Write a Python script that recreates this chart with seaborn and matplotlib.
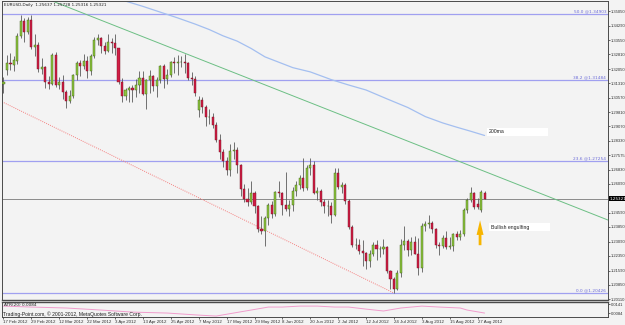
import numpy as np
import pandas as pd
import matplotlib
matplotlib.use('Agg')
import matplotlib.pyplot as plt
from matplotlib.patches import Rectangle
import seaborn as sns

#%%
'''DATA'''
# daily EURUSD candles, 17 Feb 2012 - 29 Aug 2012 (one per trading day)
opens = [1.3125, 1.3200, 1.3236, 1.3225, 1.3245, 1.3375, 1.3455, 1.3395, 1.3460, 1.3320,
         1.3330, 1.3205, 1.3215, 1.3140, 1.3125, 1.3280, 1.3120, 1.3140, 1.3085, 1.3040,
         1.3065, 1.3175, 1.3235, 1.3220, 1.3245, 1.3195, 1.3270, 1.3355, 1.3365, 1.3325,
         1.3300, 1.3345, 1.3340, 1.3315, 1.3140, 1.3065, 1.3095, 1.3105, 1.3095, 1.3120,
         1.3160, 1.3075, 1.3150, 1.3170, 1.3115, 1.3150, 1.3220, 1.3155, 1.3175, 1.3240,
         1.3235, 1.3240, 1.3240, 1.3235, 1.3160, 1.3155, 1.2990, 1.3045, 1.3010, 1.2955,
         1.2955, 1.2915, 1.2835, 1.2775, 1.2725, 1.2680, 1.2780, 1.2785, 1.2705, 1.2580,
         1.2530, 1.2515, 1.2560, 1.2495, 1.2375, 1.2365, 1.2430, 1.2500, 1.2450, 1.2565,
         1.2560, 1.2500, 1.2480, 1.2500, 1.2570, 1.2605, 1.2640, 1.2585, 1.2690, 1.2705,
         1.2560, 1.2570, 1.2515, 1.2495, 1.2495, 1.2445, 1.2665, 1.2590, 1.2605, 1.2520,
         1.2385, 1.2290, 1.2290, 1.2260, 1.2250, 1.2210, 1.2245, 1.2290, 1.2270, 1.2270,
         1.2280, 1.2155, 1.2115, 1.2065, 1.2145, 1.2290, 1.2310, 1.2265, 1.2305, 1.2245,
         1.2170, 1.2390, 1.2400, 1.2405, 1.2375, 1.2290, 1.2285, 1.2330, 1.2280, 1.2285,
         1.2350, 1.2335, 1.2350, 1.2475, 1.2525, 1.2560, 1.2505, 1.2475, 1.25637]
highs = [1.3165, 1.3278, 1.3290, 1.3275, 1.3390, 1.3486, 1.3470, 1.3475, 1.3486, 1.3385,
         1.3345, 1.3260, 1.3220, 1.3170, 1.3290, 1.3295, 1.3165, 1.3175, 1.3095, 1.3095,
         1.3180, 1.3245, 1.3250, 1.3285, 1.3270, 1.3285, 1.3370, 1.3385, 1.3370, 1.3345,
         1.3385, 1.3365, 1.3385, 1.3315, 1.3160, 1.3105, 1.3115, 1.3120, 1.3155, 1.3195,
         1.3195, 1.3155, 1.3200, 1.3175, 1.3165, 1.3225, 1.3230, 1.3205, 1.3245, 1.3265,
         1.3280, 1.3275, 1.3285, 1.3240, 1.3190, 1.3170, 1.3065, 1.3060, 1.3020, 1.2995,
         1.2975, 1.2930, 1.2870, 1.2790, 1.2750, 1.2815, 1.2825, 1.2800, 1.2710, 1.2610,
         1.2585, 1.2625, 1.2570, 1.2500, 1.2440, 1.2440, 1.2510, 1.2520, 1.2570, 1.2625,
         1.2565, 1.2670, 1.2525, 1.2590, 1.2625, 1.2655, 1.2745, 1.2705, 1.2745, 1.2725,
         1.2590, 1.2580, 1.2530, 1.2525, 1.2515, 1.2690, 1.2690, 1.2620, 1.2615, 1.2530,
         1.2395, 1.2330, 1.2325, 1.2315, 1.2255, 1.2265, 1.2305, 1.2315, 1.2285, 1.2325,
         1.2285, 1.2160, 1.2125, 1.2160, 1.2325, 1.2390, 1.2325, 1.2335, 1.2340, 1.2330,
         1.2405, 1.2415, 1.2445, 1.2415, 1.2380, 1.2305, 1.2345, 1.2365, 1.2335, 1.2355,
         1.2365, 1.2370, 1.2485, 1.2535, 1.2590, 1.2565, 1.2535, 1.2575, 1.25728]
lows = [1.3080, 1.3175, 1.3200, 1.3195, 1.3230, 1.3365, 1.3345, 1.3385, 1.3310, 1.3275,
        1.3190, 1.3180, 1.3105, 1.3100, 1.3120, 1.3110, 1.3100, 1.3050, 1.3005, 1.3030,
        1.3055, 1.3150, 1.3170, 1.3205, 1.3160, 1.3175, 1.3260, 1.3330, 1.3290, 1.3285,
        1.3295, 1.3290, 1.3280, 1.3125, 1.3035, 1.3045, 1.3035, 1.3035, 1.3060, 1.3080,
        1.3070, 1.3000, 1.3080, 1.3090, 1.3060, 1.3130, 1.3105, 1.3125, 1.3165, 1.3185,
        1.3175, 1.3215, 1.3185, 1.3150, 1.3120, 1.3065, 1.2955, 1.2975, 1.2910, 1.2920,
        1.2900, 1.2825, 1.2740, 1.2695, 1.2655, 1.2650, 1.2740, 1.2665, 1.2545, 1.2515,
        1.2495, 1.2505, 1.2460, 1.2360, 1.2350, 1.2288, 1.2395, 1.2430, 1.2440, 1.2540,
        1.2445, 1.2470, 1.2440, 1.2470, 1.2545, 1.2580, 1.2570, 1.2575, 1.2655, 1.2555,
        1.2525, 1.2495, 1.2455, 1.2440, 1.2405, 1.2440, 1.2580, 1.2560, 1.2505, 1.2375,
        1.2280, 1.2270, 1.2245, 1.2185, 1.2165, 1.2175, 1.2235, 1.2215, 1.2230, 1.2245,
        1.2145, 1.2065, 1.2042, 1.2060, 1.2125, 1.2265, 1.2235, 1.2240, 1.2245, 1.2135,
        1.2150, 1.2365, 1.2380, 1.2355, 1.2275, 1.2240, 1.2275, 1.2270, 1.2270, 1.2260,
        1.2315, 1.2315, 1.2340, 1.2455, 1.2515, 1.2480, 1.2480, 1.2465, 1.25316]
closes = [1.3140, 1.3236, 1.3232, 1.3250, 1.3375, 1.3455, 1.3395, 1.3460, 1.3320, 1.3330,
          1.3205, 1.3215, 1.3140, 1.3125, 1.3280, 1.3120, 1.3140, 1.3085, 1.3040, 1.3065,
          1.3175, 1.3235, 1.3220, 1.3245, 1.3195, 1.3270, 1.3355, 1.3365, 1.3325, 1.3300,
          1.3345, 1.3340, 1.3315, 1.3140, 1.3065, 1.3095, 1.3105, 1.3095, 1.3120, 1.3160,
          1.3075, 1.3150, 1.3170, 1.3115, 1.3150, 1.3220, 1.3155, 1.3175, 1.3240, 1.3235,
          1.3240, 1.3240, 1.3235, 1.3160, 1.3155, 1.3080, 1.3045, 1.3010, 1.2955, 1.2955,
          1.2915, 1.2835, 1.2775, 1.2725, 1.2680, 1.2780, 1.2785, 1.2705, 1.2580, 1.2530,
          1.2515, 1.2560, 1.2495, 1.2375, 1.2365, 1.2430, 1.2500, 1.2450, 1.2565, 1.2560,
          1.2500, 1.2480, 1.2500, 1.2570, 1.2605, 1.2640, 1.2585, 1.2690, 1.2705, 1.2560,
          1.2570, 1.2515, 1.2495, 1.2495, 1.2445, 1.2665, 1.2590, 1.2605, 1.2520, 1.2385,
          1.2290, 1.2290, 1.2260, 1.2250, 1.2210, 1.2245, 1.2290, 1.2270, 1.2270, 1.2280,
          1.2155, 1.2115, 1.2065, 1.2145, 1.2290, 1.2310, 1.2265, 1.2305, 1.2245, 1.2170,
          1.2390, 1.2400, 1.2405, 1.2375, 1.2290, 1.2285, 1.2330, 1.2280, 1.2285, 1.2350,
          1.2335, 1.2350, 1.2475, 1.2525, 1.2560, 1.2490, 1.2488, 1.2565, 1.25321]

# 200 day moving average, read at some bars
ma_bars = [30, 34, 40, 45, 50, 55, 59, 63, 67, 71, 75, 79, 83, 88, 94, 99, 104, 110, 116, 121, 126, 130, 134, 138]
ma_vals = [1.3590, 1.3563, 1.3530, 1.3500, 1.3470, 1.3438, 1.3410, 1.3377, 1.3350, 1.3312, 1.3268, 1.3240,
           1.3212, 1.3190, 1.3150, 1.3122, 1.3096, 1.3050, 1.3005, 1.2958, 1.2925, 1.2903, 1.2882, 1.2860]

# ATR(20), read at some bars
atr_bars = [0, 8, 18, 28, 37, 47, 56, 61, 66, 71, 76, 80, 85, 90, 95, 99, 104, 109, 114, 120, 125, 131, 133, 138]
atr_vals = [0.0128, 0.0122, 0.0116, 0.0103, 0.0090, 0.0084, 0.0071, 0.0065, 0.0084, 0.0103, 0.0122, 0.0122,
            0.0128, 0.0128, 0.0122, 0.0122, 0.0109, 0.0097, 0.0116, 0.0128, 0.0122, 0.0116, 0.0103, 0.0084]

# fibonacci retracement levels
fib_levels = [1.34903, 1.31484, 1.27254, 1.20426]
fib_labels = ['50.0 @1.34903', '38.2 @1.31484', '23.6 @1.27254', '0.0 @1.20426']

# trend lines (bar, price)
green_line_x = [13, 173.4]
green_line_y = [1.3565, 1.2421]
red_line_x = [-1, 112]
red_line_y = [1.3040, 1.2042]

last_price = 1.25321

price_ticks = [1.35050, 1.34290, 1.33550, 1.32810, 1.32050, 1.31310, 1.30570, 1.29810, 1.29070,
               1.28330, 1.27575, 1.26830, 1.26090, 1.24590, 1.23850, 1.23090, 1.22350,
               1.21590, 1.20850, 1.20110]
date_tick_bars = [0, 8, 16, 24, 32, 40, 48, 56, 64, 72, 80, 88, 96, 104, 112, 120, 128, 136]
date_tick_labels = ['17 Feb 2012', '29 Feb 2012', '12 Mar 2012', '22 Mar 2012', '3 Apr 2012',
                    '13 Apr 2012', '25 Apr 2012', '7 May 2012', '17 May 2012', '29 May 2012',
                    '8 Jun 2012', '20 Jun 2012', '2 Jul 2012', '12 Jul 2012', '24 Jul 2012',
                    '3 Aug 2012', '15 Aug 2012', '27 Aug 2012']
atr_ticks = [0.0141, 0.0084]

#%%
'''PLOT'''
sns.set_style('white')
plt.rcParams['font.family'] = ['Liberation Sans Narrow', 'Liberation Sans', 'DejaVu Sans']

bg = '#f3f3f3'
frame = '#4a4a4a'
txt = '#202020'
narrow = ['Liberation Sans Narrow', 'DejaVu Sans']
normal = ['Liberation Sans', 'DejaVu Sans']

df = pd.DataFrame({'open': opens, 'high': highs, 'low': lows, 'close': closes})
df['bar'] = np.arange(len(df))
up = df[df.close >= df.open]
down = df[df.close < df.open]

fig = plt.figure(figsize=(6.25, 3.25), dpi=100, facecolor=bg)
ax = fig.add_axes([2/625, 25/325, 606/625, 299/325], facecolor=bg)
ax2 = fig.add_axes([2/625, 8/325, 606/625, 15/325], facecolor=bg, sharex=ax)

#Fib levels + last price
for lev, lab in zip(fib_levels, fib_labels):
    ax.axhline(lev, color='#a0a0f0', lw=0.9, zorder=1)
    ax.text(0.997, lev + 0.0004, lab, transform=ax.get_yaxis_transform(),
            ha='right', va='bottom', fontsize=3.1, color='#6a6ad8', family=narrow)
ax.axhline(last_price, color='#8a8a8a', lw=0.7, zorder=1)

#Trend lines
ax.plot(green_line_x, green_line_y, color='#6cbf84', lw=0.7, zorder=2)
ax.plot(red_line_x, red_line_y, color='#f38080', lw=0.7, ls=(0, (1, 1.2)), zorder=2)

#200 MA
sns.lineplot(x=ma_bars, y=ma_vals, ax=ax, color='#a4bff0', lw=0.9, zorder=2)

#Candles
ax.vlines(df.bar, df.low, df.high, color='#5a5a5a', lw=0.6, zorder=3)
ax.bar(up.bar, (up.close - up.open).clip(lower=0.0001), bottom=up.open, width=0.6,
       color='#8dc63f', edgecolor='#3c5a12', linewidth=0.3, zorder=4)
ax.bar(down.bar, (down.close - down.open), bottom=down.open, width=0.6,
       color='#d11d45', edgecolor='#70101f', linewidth=0.3, zorder=4)

#Notes
ax.add_patch(Rectangle((0.800, 0.5485), 0.1007, 0.0268, transform=ax.transAxes,
                       facecolor='white', edgecolor='none', zorder=5))
ax.text(0.8036, 0.5619, '200ma', transform=ax.transAxes, fontsize=3.7, family=normal,
        va='center', ha='left', color=txt, zorder=6)
ax.add_patch(Rectangle((0.8036, 0.2308), 0.1007, 0.0268, transform=ax.transAxes,
                       facecolor='white', edgecolor='none', zorder=5))
ax.text(0.8069, 0.2441, 'Bullish engulfing', transform=ax.transAxes, fontsize=3.7, family=normal,
        va='center', ha='left', color=txt, zorder=6)
ax.annotate('', xy=(136.7, 1.2434), xytext=(136.7, 1.2276),
            arrowprops=dict(arrowstyle='simple,head_length=1.05,head_width=0.5,tail_width=0.2',
                            color='#f7b500', lw=0, mutation_scale=10), zorder=6)

ax.text(0.004, 0.993, 'EURUSD,Daily  1.25637 1.25728 1.25316 1.25321', transform=ax.transAxes,
        fontsize=3.0, va='top', ha='left', color=txt, family=narrow)

#Axis settings
ax.set_xlim(-0.43, 173.4)
ax.set_ylim(1.2006, 1.3558)
ax.yaxis.tick_right()
ax.set_yticks(price_ticks)
ax.set_yticklabels(['%.5f' % t for t in price_ticks])
ax.tick_params(axis='y', which='both', right=True, length=1.5, width=0.5, pad=0.6,
               labelsize=3.0, colors='#303030')
ax.tick_params(axis='x', which='both', bottom=False, labelbottom=False)
ax.set_ylabel('')
ax.set_xlabel('')
for s in ax.spines.values():
    s.set_color(frame)
    s.set_linewidth(0.7)
ax.spines['bottom'].set_linewidth(1.0)

#Last price box
ax.text(1.0025, last_price, '%.5f' % last_price, transform=ax.get_yaxis_transform(),
        fontsize=3.0, color='white', va='center', ha='left', family=narrow,
        bbox=dict(facecolor='black', edgecolor='none', pad=0.4), zorder=7, clip_on=False)

#ATR pane
sns.lineplot(x=atr_bars, y=atr_vals, ax=ax2, color='#f09ccc', lw=0.7)
ax2.set_ylim(0.0059, 0.0154)
ax2.yaxis.tick_right()
ax2.set_yticks(atr_ticks)
ax2.set_yticklabels(['%.4f' % t for t in atr_ticks])
ax2.tick_params(axis='y', right=True, length=1.5, width=0.5, pad=0.6, labelsize=3.0, colors='#303030')
ax2.set_xticks(date_tick_bars)
ax2.set_xticklabels(date_tick_labels, ha='left')
ax2.tick_params(axis='x', bottom=True, length=1.5, width=0.5, pad=1, labelsize=3.2, colors='#303030')
ax2.set_ylabel('')
ax2.set_xlabel('')
for s in ax2.spines.values():
    s.set_color(frame)
    s.set_linewidth(0.7)
ax2.spines['top'].set_linewidth(1.0)
ax2.text(0.004, 0.92, 'ATR(20) 0.0084', transform=ax2.transAxes, fontsize=3.1,
         va='top', ha='left', color=txt, family=narrow)
ax2.text(0.002, 0.02, 'Trading-Point.com, \u00a9 2001-2012, MetaQuotes Software Corp.',
         transform=ax2.transAxes, fontsize=3.6, va='bottom', ha='left', color=txt, family=normal)

fig.savefig('out.png', dpi=100, facecolor=bg)
